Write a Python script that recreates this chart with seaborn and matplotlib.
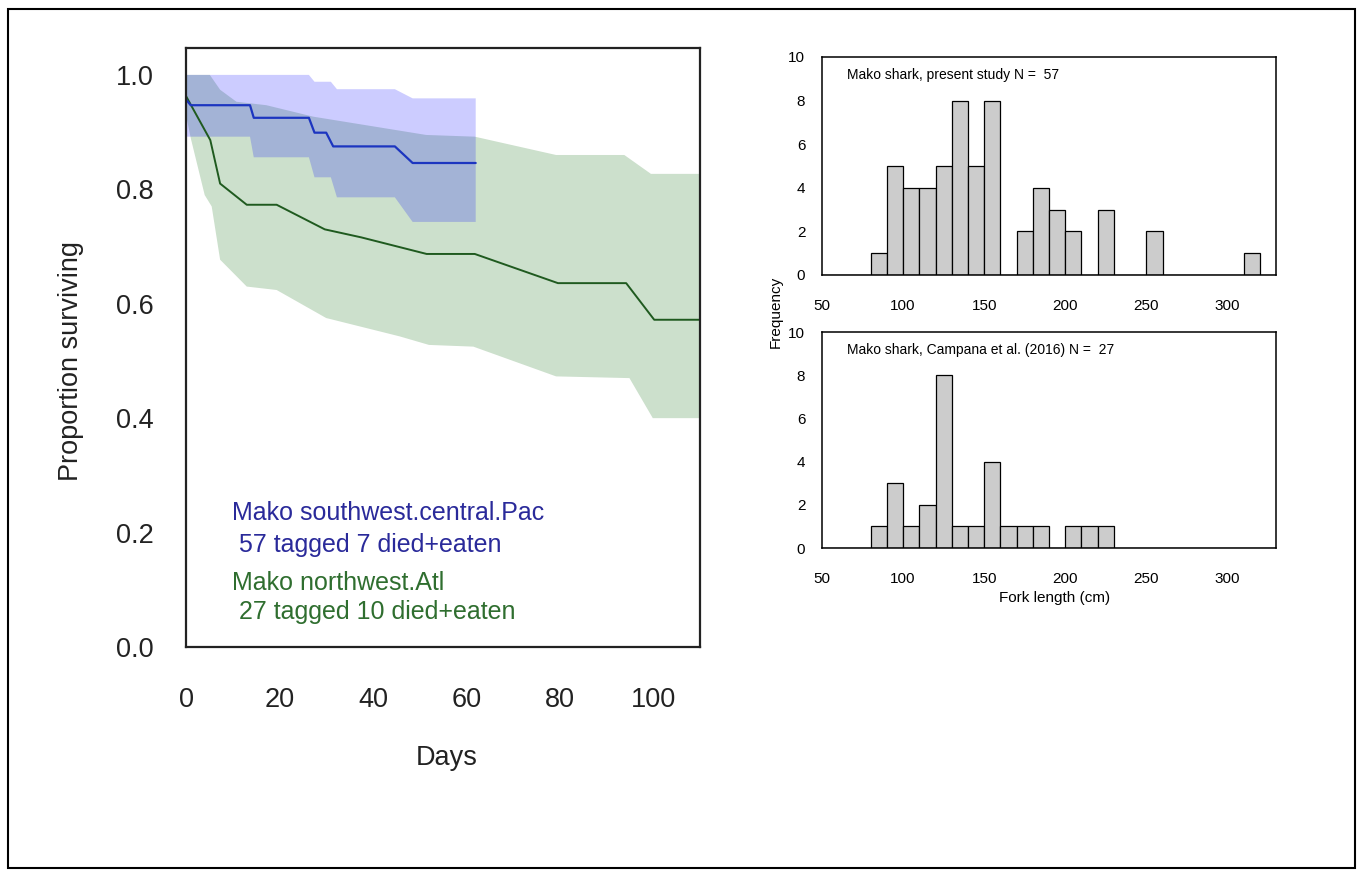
import numpy as np
import pandas as pd
import matplotlib
matplotlib.use("Agg")
import matplotlib.pyplot as plt
import seaborn as sns
from matplotlib.patches import Rectangle

sns.set_theme(style="white")
plt.rcParams['font.family'] = ['Liberation Sans', 'DejaVu Sans']

# ---------------- Survival data ----------------
pac_days = [0, 1, 13.7, 14.5, 26.3, 27.5, 30.0, 31.5, 44.7, 48.5, 62]
pac_surv = [0.957, 0.947, 0.947, 0.925, 0.925, 0.899, 0.899, 0.875, 0.875, 0.846, 0.846]
pac_ci_days = [0, 13.7, 14.5, 26.3, 27.5, 31.0, 32.3, 44.7, 48.5, 62]
pac_upper = [1.0, 1.0, 1.0, 1.0, 0.988, 0.988, 0.975, 0.975, 0.959, 0.959]
pac_lower = [0.892, 0.892, 0.856, 0.856, 0.821, 0.821, 0.786, 0.786, 0.743, 0.743]

atl_days = [0, 5.2, 7.3, 13, 19.4, 29.7, 37.5, 51.5, 61.8, 79.6, 94.2, 100.2, 110]
atl_surv = [0.963, 0.886, 0.81, 0.773, 0.773, 0.73, 0.716, 0.687, 0.687, 0.636, 0.636, 0.572, 0.572]
atl_up_days = [0, 5.1, 7.3, 10.8, 17.2, 27.2, 51.4, 61.8, 79.2, 93.8, 99.5, 110]
atl_upper = [1.0, 1.0, 0.974, 0.953, 0.947, 0.927, 0.895, 0.892, 0.86, 0.86, 0.827, 0.827]
atl_low_days = [0, 1, 4, 5.5, 7.3, 13, 19.4, 30, 45.7, 52, 61.5, 79.2, 94.9, 99.9, 110]
atl_lower = [0.93, 0.89, 0.79, 0.77, 0.677, 0.63, 0.624, 0.575, 0.543, 0.528, 0.525, 0.473, 0.47, 0.40, 0.40]

pac_label = ["Mako southwest.central.Pac", " 57 tagged 7 died+eaten"]
atl_label = ["Mako northwest.Atl", " 27 tagged 10 died+eaten"]

# ---------------- Histogram data ----------------
bin_edges = list(range(50, 340, 10))   # 50 .. 330
present_counts = [0, 0, 0, 1, 5, 4, 4, 5, 8, 5, 8, 0, 2, 4, 3, 2, 0, 3, 0, 0, 2, 0, 0, 0, 0, 0, 1, 0]
campana_counts = [0, 0, 0, 1, 3, 1, 2, 8, 1, 1, 4, 1, 1, 1, 0, 1, 1, 1, 0, 0, 0, 0, 0, 0, 0, 0, 0, 0]
present_title = "Mako shark, present study N =  57"
campana_title = "Mako shark, Campana et al. (2016) N =  27"
hist_xticks = [50, 100, 150, 200, 250, 300]
hist_yticks = [0, 2, 4, 6, 8, 10]

W, H = 1362, 875
fig = plt.figure(figsize=(W / 100, H / 100), dpi=100)
fig.patch.set_facecolor("white")

def px_axes(x0, y0, x1, y1):
    return fig.add_axes([x0 / W, 1 - y1 / H, (x1 - x0) / W, (y1 - y0) / H])

# ---------------- Left: survival ----------------
ax = px_axes(186, 48, 700, 647)
ax.set_facecolor("white")
green_fill = (0, 100 / 255, 0, 0.2)
blue_fill = (0, 0, 1, 0.2)
ax.fill(np.concatenate([atl_up_days, atl_low_days[::-1]]),
        np.concatenate([atl_upper, atl_lower[::-1]]),
        color=green_fill, lw=0)
ax.fill(np.concatenate([pac_ci_days, pac_ci_days[::-1]]),
        np.concatenate([pac_upper, pac_lower[::-1]]),
        color=blue_fill, lw=0)
df_atl = pd.DataFrame({"day": atl_days, "surv": atl_surv})
df_pac = pd.DataFrame({"day": pac_days, "surv": pac_surv})
sns.lineplot(data=df_atl, x="day", y="surv", ax=ax, color="#1f5a1f", lw=1.4,
             estimator=None, sort=False)
sns.lineplot(data=df_pac, x="day", y="surv", ax=ax, color="#1c35c0", lw=1.6,
             estimator=None, sort=False)
ax.set_xlim(0, 110)
ax.set_ylim(0, 1.047)
ax.set_xticks([0, 20, 40, 60, 80, 100])
ax.set_yticks([0.0, 0.2, 0.4, 0.6, 0.8, 1.0])
ax.set_yticklabels(["0.0", "0.2", "0.4", "0.6", "0.8", "1.0"])
ax.tick_params(axis="both", direction="out", length=12, width=1.3, colors="black",
               labelsize=19.5, labelcolor="#222222")
ax.tick_params(axis="y", pad=11)
ax.tick_params(axis="x", pad=17)
ax.set_xlabel("")
ax.set_ylabel("")
for s in ax.spines.values():
    s.set_visible(True)
    s.set_color("#222222")
    s.set_linewidth(1.6)

ax.text(9.8, 0.234, pac_label[0], color="#2a2a9a", fontsize=18, va="center", ha="left")
ax.text(9.8, 0.178, pac_label[1], color="#2a2a9a", fontsize=18, va="center", ha="left")
ax.text(9.8, 0.112, atl_label[0], color="#2f6e2f", fontsize=18, va="center", ha="left")
ax.text(9.8, 0.061, atl_label[1], color="#2f6e2f", fontsize=18, va="center", ha="left")

fig.text(71 / W, 1 - 361 / H, "Proportion surviving", rotation=90, ha="center",
         va="center", fontsize=19.5, color="#222222")
fig.text(447 / W, 1 - 758 / H, "Days", ha="center", va="center", fontsize=19.5,
         color="#222222")

# ---------------- Right: histograms ----------------
centers = [e + 5 for e in bin_edges[:-1]]

def hist_panel(axh, counts, title):
    d = pd.DataFrame({"fl": centers, "n": counts})
    sns.histplot(data=d, x="fl", weights="n", bins=bin_edges, ax=axh,
                 color="#cccccc", edgecolor="black", linewidth=0.9, alpha=1)
    axh.set_xlim(50, 330)
    axh.set_ylim(0, 10)
    axh.set_xticks(hist_xticks)
    axh.set_yticks(hist_yticks)
    axh.tick_params(axis="both", direction="out", length=7, width=1, colors="black",
                    labelsize=11)
    axh.tick_params(axis="x", pad=10.5)
    axh.tick_params(axis="y", pad=5)
    axh.set_xlabel("")
    axh.set_ylabel("")
    for s in axh.spines.values():
        s.set_visible(True)
        s.set_color("black")
        s.set_linewidth(1.1)
    axh.text(0.056, 0.917, title, transform=axh.transAxes, fontsize=10,
             va="center", ha="left", color="black")

ax1 = px_axes(822, 57, 1276, 275)
hist_panel(ax1, present_counts, present_title)
ax2 = px_axes(822, 332, 1276, 548)
hist_panel(ax2, campana_counts, campana_title)

fig.text(1055 / W, 1 - 598 / H, "Fork length (cm)", ha="center", va="center",
         fontsize=11, color="black")
fig.text(776 / W, 1 - 312 / H, "Frequency", rotation=90, ha="center", va="center",
         fontsize=11, color="black")

# outer frame
fig.patches.append(Rectangle((8 / W, 1 - 868 / H), (1355 - 8) / W, (868 - 9) / H,
                             transform=fig.transFigure, fill=False,
                             edgecolor="black", linewidth=1.5))

fig.savefig("out.png", dpi=100, facecolor="white")
